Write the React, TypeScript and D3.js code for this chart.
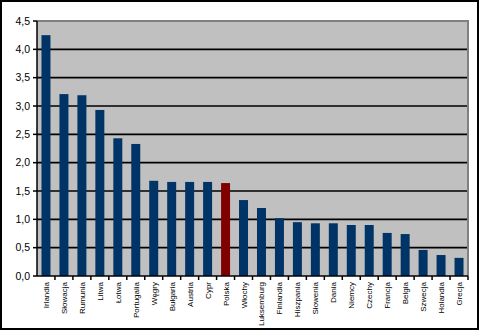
import React from "react";
import * as d3 from "d3";

const countries = [
  "Irlandia", "Słowacja", "Rumunia", "Litwa", "Łotwa", "Portugalia", "Węgry", "Bułgaria",
  "Austria", "Cypr", "Polska", "Włochy", "Luksemburg", "Finlandia", "Hiszpania", "Słowenia",
  "Dania", "Niemcy", "Czechy", "Francja", "Belgia", "Szwecja", "Holandia", "Grecja",
];
const values = [
  4.25, 3.21, 3.19, 2.93, 2.43, 2.33, 1.68, 1.66, 1.66, 1.66, 1.64, 1.34, 1.2, 1.02,
  0.95, 0.93, 0.93, 0.9, 0.9, 0.76, 0.74, 0.46, 0.37, 0.32,
];
const yTicks = [0, 0.5, 1, 1.5, 2, 2.5, 3, 3.5, 4, 4.5];
const highlight = "Polska";

export default function App() {
  const W = 480, H = 332;
  const left = 37, right = 468, top = 21, bottom = 276;
  const x = d3.scaleBand<string>().domain(countries).range([left, right]).paddingInner(0.5).paddingOuter(0.25);
  const y = d3.scaleLinear().domain([0, 4.5]).range([bottom, top]);
  const step = x.step();
  const fmt = (v: number) => v.toFixed(1).replace(".", ",");
  const font = "'Liberation Sans', Arial, sans-serif";
  return (
    <svg width={W} height={H} style={{ position: "absolute", left: 0, top: 0 }}>
      <rect x={0} y={0} width={W} height={H} fill="#fff" />
      <rect x={1} y={1} width={477} height={328} fill="#fff" stroke="#000" strokeWidth={2} />
      <rect x={left} y={top} width={right - left} height={bottom - top} fill="#C0C0C0" />
      <path d={`M${left},${top}H${right}V${bottom}`} fill="none" stroke="#808080" strokeWidth={2} />
      {yTicks.filter((t) => t > 0 && t < 4.5).map((t) => (
        <line key={t} x1={left} x2={right - 1} y1={y(t)} y2={y(t)} stroke="#000" strokeWidth={1.6} />
      ))}
      {countries.map((c, i) => (
        <rect key={c} x={x(c)!} y={y(values[i])} width={x.bandwidth()} height={bottom - y(values[i])}
          fill={c === highlight ? "#800000" : "#003366"} />
      ))}
      <line x1={left} x2={left} y1={top} y2={bottom} stroke="#000" strokeWidth={1.5} />
      <line x1={left} x2={right} y1={bottom} y2={bottom} stroke="#000" strokeWidth={1.5} />
      {yTicks.map((t) => (
        <g key={t}>
          <line x1={left - 4} x2={left} y1={y(t)} y2={y(t)} stroke="#000" strokeWidth={1.5} />
          <text x={30} y={y(t)} dy="0.35em" textAnchor="end" fontFamily={font} fontSize={10.5} fill="#000">{fmt(t)}</text>
        </g>
      ))}
      {countries.map((c, i) => (
        <line key={"t" + c} x1={left + step * (i + 1)} x2={left + step * (i + 1)} y1={bottom} y2={bottom + 4}
          stroke="#000" strokeWidth={1.5} />
      ))}
      {countries.map((c) => {
        const cx = x(c)! + x.bandwidth() / 2;
        return (
          <text key={"l" + c} transform={`translate(${cx + 3},${282}) rotate(-90)`} textAnchor="end"
            fontFamily={font} fontSize={8} fill="#000">{c}</text>
        );
      })}
    </svg>
  );
}
